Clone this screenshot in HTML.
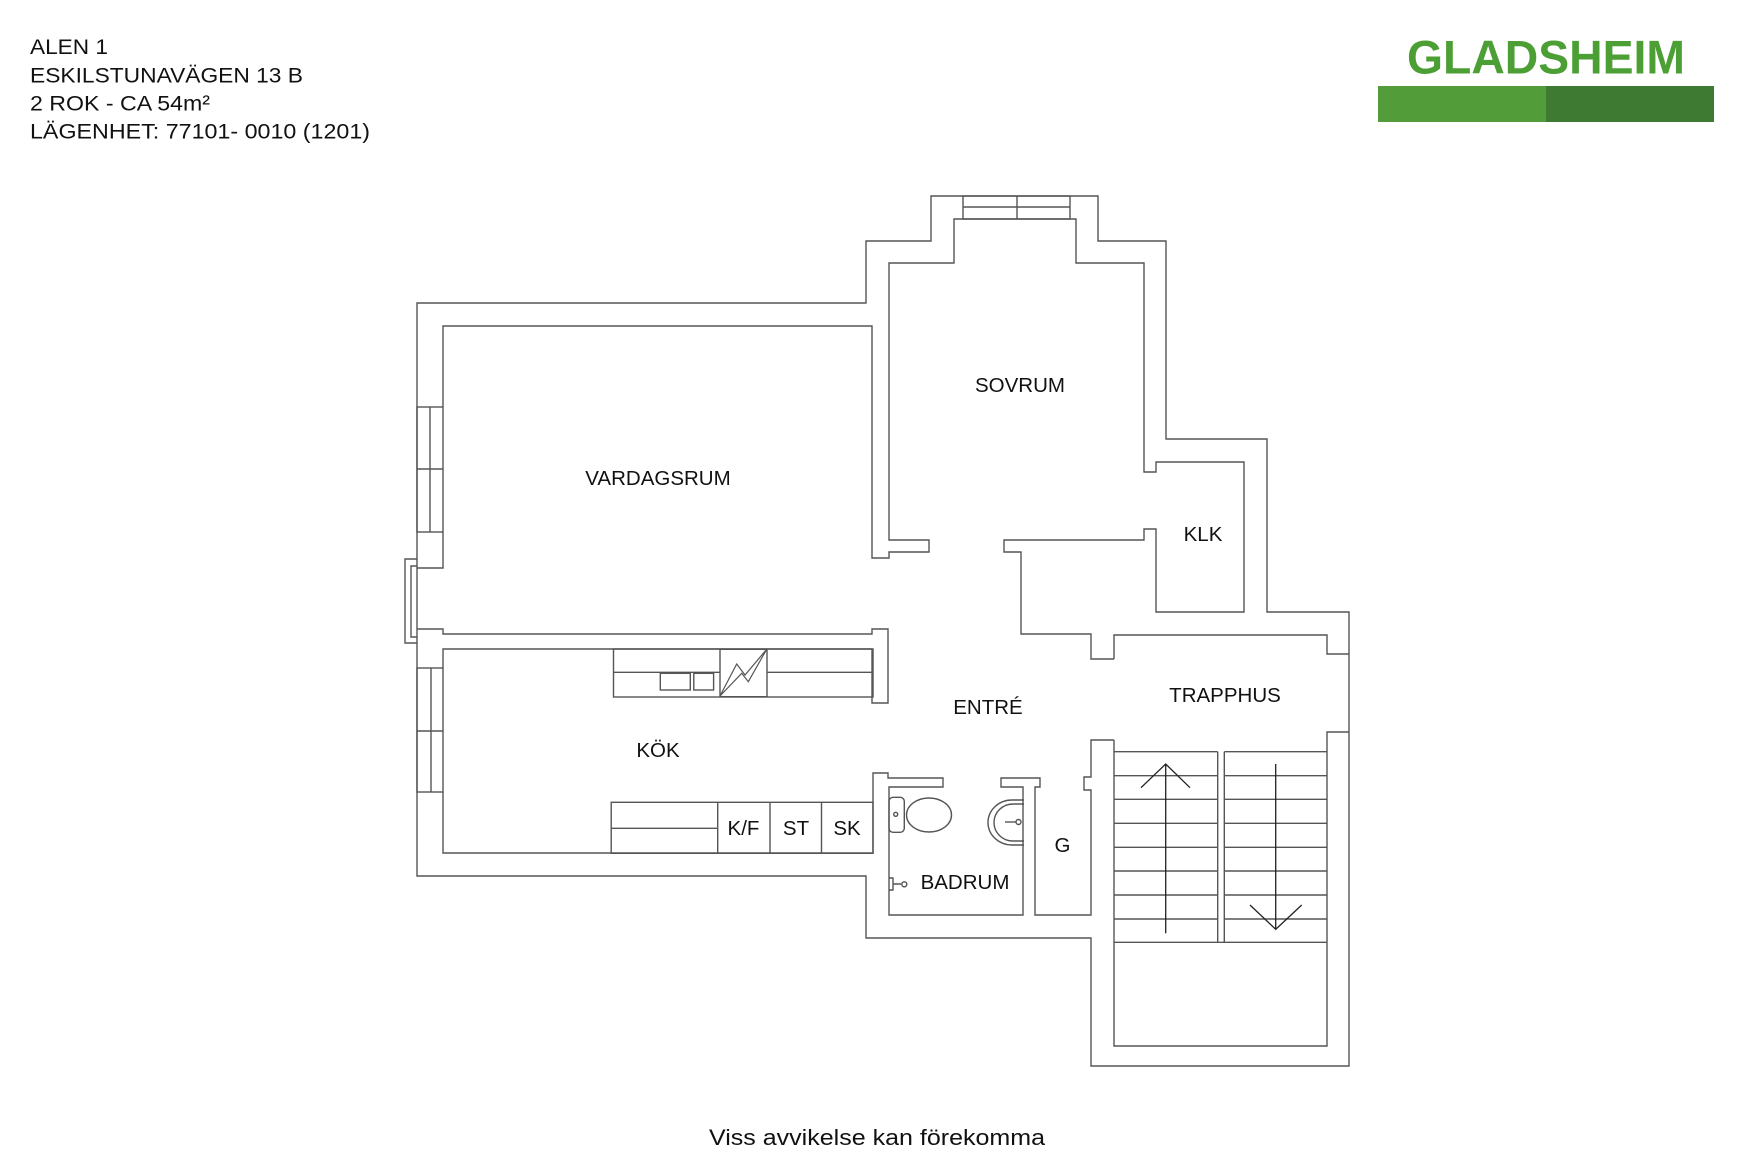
<!DOCTYPE html>
<html><head><meta charset="utf-8"><style>
html,body{margin:0;padding:0;background:#fff;}
svg{display:block}
text{font-family:"Liberation Sans",Arial,sans-serif;fill:#111}
</style></head><body>
<svg width="1754" height="1170" viewBox="0 0 1754 1170" xmlns="http://www.w3.org/2000/svg">
<g font-size="21.5">
<text x="30" y="54" textLength="78" lengthAdjust="spacingAndGlyphs">ALEN 1</text>
<text x="30" y="82.7" textLength="273" lengthAdjust="spacingAndGlyphs">ESKILSTUNAVÄGEN 13 B</text>
<text x="30" y="110.7" textLength="180" lengthAdjust="spacingAndGlyphs">2 ROK - CA 54m²</text>
<text x="30" y="138.3" textLength="340" lengthAdjust="spacingAndGlyphs">LÄGENHET:  77101- 0010 (1201)</text>
</g>
<text x="1546" y="73.5" font-size="47" font-weight="bold" text-anchor="middle" style="fill:#4c9f35" textLength="278" lengthAdjust="spacingAndGlyphs">GLADSHEIM</text>
<rect x="1378" y="86" width="168" height="36" fill="#529c3a"/>
<rect x="1546" y="86" width="168" height="36" fill="#3f7a32"/>

<g fill="none" stroke="#555" stroke-width="1.4" stroke-linejoin="miter">
<path d="M417,303 H866 V241 H931 V196 H1098 V241 H1166 V439 H1267 V612 H1349 V1066 H1091 V938 H866 V876 H417 Z"/>
<path d="M417,559 H405 V643 H417 M417,566 H411 V637 H417"/>
<path d="M443,407 V326 H872 V558 H889 V552 H929 V540 H889 V263 H954 V219 H1076 V263 H1144 V472 H1156 V462 H1244 V612 H1156 V529 H1144 V540 H1004 V552 H1021 V634 H1091 V659 H1114"/>
<path d="M443,532 V568 H417"/>
<rect x="417" y="407" width="26" height="125"/><path d="M430,407 V532 M417,469 H443"/>
<rect x="963" y="196" width="107" height="23"/><path d="M963,207 H1070 M1017,196 V219"/>
<path d="M417,629 H443 V634 H872 V629 H888 V703 H872 V649 H443 V668"/>
<path d="M443,792 V853 H873 V773 H888 V778 H943 V787 H889 V915 H1023 V787 H1001 V778 H1040 V787 H1035 V915 H1091 V790 H1084 V777 H1091 V740 H1114"/>
<rect x="417" y="668" width="26" height="124"/><path d="M431,668 V792 M417,731 H443"/>
<path d="M1114,659 V635 H1327 V654 H1349 M1349,732 H1327 V1046 H1114 V740"/>
<rect x="613.5" y="649" width="259.5" height="48"/>
<path d="M613.5,672.3 H720 M767,672.3 H873"/>
<rect x="720" y="649.3" width="47" height="47.4"/>
<rect x="660.3" y="673.3" width="30" height="16.7"/><rect x="693.8" y="673.3" width="19.8" height="16.7"/>
<path d="M720,696 L736.7,664 L745,675 L766.7,649.3 L748.3,681.7 L741.7,673.3 Z" stroke-width="1.2"/>
<rect x="611.2" y="802.3" width="261.8" height="51"/>
<path d="M611.2,828.3 H717.7 M717.7,802.3 V853.3 M770,802.3 V853.3 M821.5,802.3 V853.3"/>
<rect x="889" y="797.3" width="15.3" height="35" rx="4"/>
<ellipse cx="929" cy="815" rx="22.5" ry="17"/>
<circle cx="895.7" cy="814.3" r="2"/>
<path d="M1024,800 H1012 A24,22.5 0 0 0 1012,845 H1024"/>
<path d="M1024,804 H1013 A19,18.5 0 0 0 1013,841 H1024"/>
<path d="M1005,822 H1016"/><circle cx="1018.5" cy="822" r="2.5"/>
<path d="M889,878 H893 V890 H889 M893,884 H901"/><circle cx="904.3" cy="884.3" r="2.5"/>
<path d="M1114,751.7 H1217.7 M1224.3,751.7 H1326.7 M1114,775.7 H1217.7 M1224.3,775.7 H1326.7 M1114,799.3 H1217.7 M1224.3,799.3 H1326.7 M1114,823.3 H1217.7 M1224.3,823.3 H1326.7 M1114,847.3 H1217.7 M1224.3,847.3 H1326.7 M1114,871 H1217.7 M1224.3,871 H1326.7 M1114,895 H1217.7 M1224.3,895 H1326.7 M1114,919 H1217.7 M1224.3,919 H1326.7 M1114,942.3 H1326.7 M1217.7,751.7 V942.3 M1224.3,751.7 V942.3"/>
</g>
<g fill="none" stroke="#222" stroke-width="1.3">
<path d="M1165.7,764 V933.3 M1141,787.7 L1165.7,764 L1190,787.7"/>
<path d="M1275.7,764 V929.3 M1250,905 L1275.7,929.3 L1301.7,905"/>
</g>
<g font-size="20.5" text-anchor="middle">
<text x="658" y="485">VARDAGSRUM</text>
<text x="1020" y="392">SOVRUM</text>
<text x="1203" y="541">KLK</text>
<text x="658" y="757">KÖK</text>
<text x="988" y="714">ENTRÉ</text>
<text x="743.5" y="835">K/F</text>
<text x="796" y="835">ST</text>
<text x="847" y="835">SK</text>
<text x="965" y="889">BADRUM</text>
<text x="1062.5" y="852">G</text>
<text x="1225" y="702">TRAPPHUS</text>
</g>
<text x="877" y="1145" font-size="22" text-anchor="middle" textLength="336" lengthAdjust="spacingAndGlyphs">Viss avvikelse kan förekomma</text>
</svg>
</body></html>
